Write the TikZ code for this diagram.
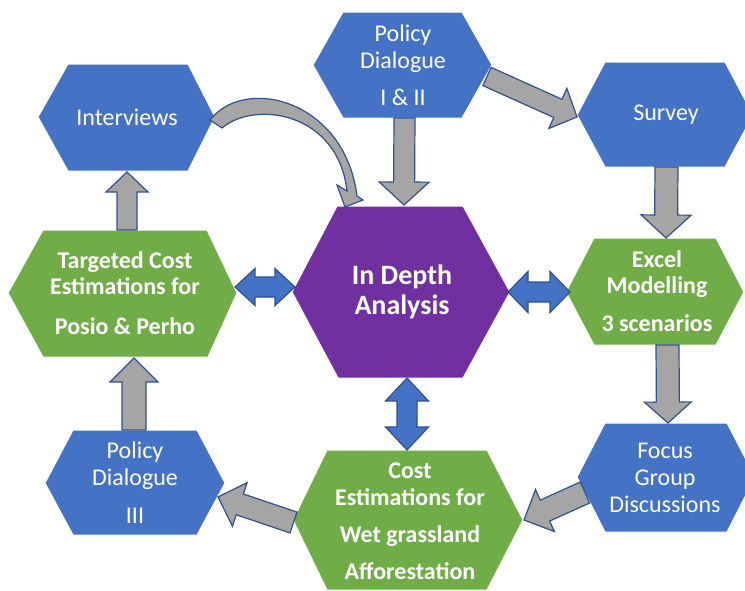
\documentclass[tikz,border=0pt]{standalone}
\usepackage{fontspec}
\setmainfont{Carlito}
\usetikzlibrary{calc}
\definecolor{hexblue}{HTML}{4472C4}
\definecolor{hexgreen}{HTML}{70AD47}
\definecolor{hexpurple}{HTML}{7030A0}
\definecolor{arrgray}{HTML}{A5A5A5}
\definecolor{arredge}{HTML}{2F528F}
\tikzset{
  hexbox/.style={draw=white, line width=1pt, line join=miter},
  lbl/.style={text=white, align=center, font=\fontsize{24}{27}\selectfont},
  lblb/.style={text=white, align=center, font=\fontsize{24}{26.5}\selectfont\bfseries},
  grayarrow/.style={fill=arrgray, draw=arredge, line width=1.2pt, line join=miter},
  bluearrow/.style={fill=hexblue, draw=arredge, line width=1.2pt, line join=miter},
}
% single block arrow: style, from, to, half shaft, half head, head length
\newcommand\blockarrow[6]{%
  \coordinate (ba-h) at ($(#3)!#6!(#2)$);
  \path[#1] ($(#2)!#4!90:(#3)$) -- ($(ba-h)!#4!90:(#3)$) -- ($(ba-h)!#5!90:(#3)$)
    -- (#3) -- ($(ba-h)!#5!-90:(#3)$) -- ($(ba-h)!#4!-90:(#3)$) -- ($(#2)!#4!-90:(#3)$) -- cycle;}
% double block arrow
\newcommand\dblarrow[6]{%
  \coordinate (da-a) at ($(#2)!#6!(#3)$);
  \coordinate (da-b) at ($(#3)!#6!(#2)$);
  \path[#1] (#2) -- ($(da-a)!#5!90:(#3)$) -- ($(da-a)!#4!90:(#3)$) -- ($(da-b)!#4!90:(#3)$)
    -- ($(da-b)!#5!90:(#3)$) -- (#3) -- ($(da-b)!#5!-90:(#3)$) -- ($(da-b)!#4!-90:(#3)$)
    -- ($(da-a)!#4!-90:(#3)$) -- ($(da-a)!#5!-90:(#3)$) -- cycle;}
\begin{document}
\begin{tikzpicture}[x=1pt,y=-1pt]
\clip (0,0) rectangle (745,590);
\fill[white] (0,0) rectangle (745,590);
% hexagons
\path[hexbox, fill=hexblue] (38,117) -- (68,64) -- (188,64) -- (215,117) -- (188,171) -- (68,171) -- cycle;
\path[hexbox, fill=hexblue] (313,65) -- (343,12) -- (462,12) -- (492,65) -- (462,118) -- (343,118) -- cycle;
\path[hexbox, fill=hexblue] (577,115) -- (605,62) -- (725,62) -- (753,115) -- (725,167) -- (605,167) -- cycle;
\path[hexbox, fill=hexgreen] (8,293) -- (43,230) -- (207,230) -- (237,293) -- (208,357) -- (43,357) -- cycle;
\path[hexbox, fill=hexpurple] (292,292) -- (337,206) -- (463,206) -- (510,292) -- (463,378) -- (338,378) -- cycle;
\path[hexbox, fill=hexgreen] (566,292) -- (594,238) -- (716,238) -- (744,292) -- (716,345) -- (594,345) -- cycle;
\path[hexbox, fill=hexblue] (45,483) -- (73,430) -- (197,430) -- (225,483) -- (197,535) -- (73,535) -- cycle;
\path[hexbox, fill=hexgreen] (293,520) -- (327,450) -- (487,450) -- (523,520) -- (487,590) -- (327,590) -- cycle;
\path[hexbox, fill=hexblue] (577,477) -- (605,423) -- (727,423) -- (755,477) -- (727,532) -- (605,532) -- cycle;
% labels
\node[lbl] (iv) at (127,117) {Interviews};
\node[lbl] (pd1) at (403,65) {Policy\\Dialogue\\[10pt]I \& II};
\node[lbl] (sv) at (666,115) {Survey};
\node[lblb] (tc) at (125,293) {Targeted Cost\\Estimations for\\[13pt]Posio \& Perho};
\node[text=white, align=center, font=\fontsize{28}{30}\selectfont\bfseries] (ida) at (402,292) {In Depth\\Analysis};
\node[lblb] (em) at (657,291) {Excel\\Modelling\\[11pt]3 scenarios};
\node[lbl] (pd3) at (135,483) {Policy\\Dialogue\\[11pt]III};
\node[lbl] (fg) at (665,478) {Focus\\Group\\Discussions};
\node[lblb] (ce) at (410,521) {Cost\\Estimations for\\[11pt]Wet grassland\\[10pt]Afforestation};
% connector end points
\coordinate (pd1-s) at (404.5,118); \coordinate (ida-n) at (404,205);
\coordinate (pd1-e) at (487,76.5);  \coordinate (sv-w) at (577,117);
\coordinate (sv-s) at (666.5,167);  \coordinate (em-n) at (666,238);
\coordinate (em-s) at (667.5,345);  \coordinate (fg-n) at (668,423);
\coordinate (fg-w) at (585,492.5);  \coordinate (ce-e) at (524,520);
\coordinate (ce-w) at (293.5,522.5); \coordinate (pd3-e) at (218,497);
\coordinate (pd3-n) at (134,430);   \coordinate (tc-s) at (134,358);
\coordinate (tc-n) at (127,230);    \coordinate (iv-s) at (127,172);
\coordinate (tc-e) at (235,287);    \coordinate (ida-w) at (295,287);
\coordinate (ida-e) at (508,292);   \coordinate (em-w) at (570,292);
\coordinate (ida-s) at (407,378);   \coordinate (ce-n) at (407,450);
% gray arrows
\blockarrow{grayarrow}{pd1-s}{ida-n}{10.5pt}{25pt}{23pt}
\blockarrow{grayarrow}{pd1-e}{sv-w}{10pt}{22pt}{21pt}
\blockarrow{grayarrow}{sv-s}{em-n}{11.5pt}{25pt}{23pt}
\blockarrow{grayarrow}{em-s}{fg-n}{11.5pt}{23.5pt}{21pt}
\blockarrow{grayarrow}{fg-w}{ce-e}{11.5pt}{23pt}{23pt}
\blockarrow{grayarrow}{ce-w}{pd3-e}{11pt}{23pt}{23pt}
\blockarrow{grayarrow}{pd3-n}{tc-s}{12pt}{24pt}{24pt}
\blockarrow{grayarrow}{tc-n}{iv-s}{10pt}{21pt}{20pt}
% curved arrow Interviews -> In Depth
\path[grayarrow] (210,120) .. controls (245,75) and (345,100) .. (357,196)
  -- (363,200) -- (345,207) -- (337,185) -- (347,191)
  .. controls (338,112) and (255,100) .. (222,128) -- cycle;
% blue double arrows
\dblarrow{bluearrow}{tc-e}{ida-w}{10pt}{18.5pt}{20pt}
\dblarrow{bluearrow}{ida-e}{em-w}{10pt}{20.5pt}{20pt}
\dblarrow{bluearrow}{ida-s}{ce-n}{10pt}{21.5pt}{23pt}
\end{tikzpicture}
\end{document}
